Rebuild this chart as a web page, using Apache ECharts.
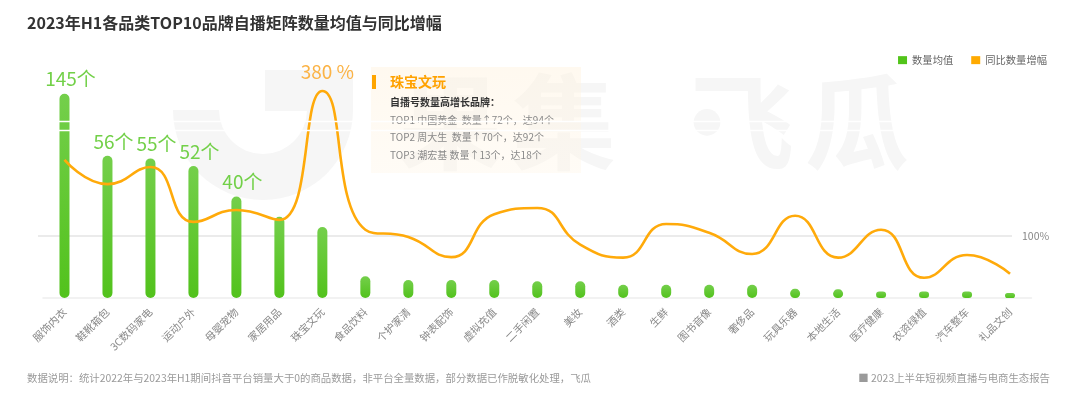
<!DOCTYPE html>
<html>
<head>
<meta charset="utf-8">
<script src="https://cdn.jsdelivr.net/npm/echarts@6/dist/echarts.min.js"></script>
<style>html,body{margin:0;padding:0;background:#fff}#chart{width:1080px;height:399px}</style>
</head>
<body>
<div id="chart"></div>
<script>
const categories = ['服饰内衣','鞋靴箱包','3C数码家电','运动户外','母婴宠物','家居用品','珠宝文玩','食品饮料','个护家清','钟表配饰','虚拟充值','二手闲置','美妆','酒类','生鲜','图书音像','奢侈品','玩具乐器','本地生活','医疗健康','农资绿植','汽车整车','礼品文创'];
const countValues = [145, 56, 55, 52, 40, 32, 28, 8.6, 7.1, 7.1, 7.1, 6.6, 6.6, 5.2, 5.2, 5.2, 5.2, 3.6, 3.4, 2.6, 2.6, 2.6, 2.0];
const growthValues = [247, 200, 233, 127, 150, 131, 380, 112, 98, 59, 142, 154, 83, 58, 123, 106, 65, 139, 58, 112, 19, 63, 27];
const labeledBarCount = 5;
const referenceGrowth = 100;
const countBreak = { start: 66, end: 134 };
const noteTitle = '珠宝文玩';
const noteHeader = '自播号数量高增长品牌：';
const noteLines = ['TOP1 中国黄金  数量↑72个，达94个', 'TOP2 周大生  数量↑70个，达92个', 'TOP3 潮宏基 数量↑13个，达18个'];
const titleText = '2023年H1各品类TOP10品牌自播矩阵数量均值与同比增幅';
const footLeft = '数据说明：统计2022年与2023年H1期间抖音平台销量大于0的商品数据，非平台全量数据，部分数据已作脱敏化处理，飞瓜';
const footRight = '■ 2023上半年短视频直播与电商生态报告';

const FF = "'Noto Sans CJK SC','Noto Sans',sans-serif";
const ORANGE = '#ffaa0a';
const WM = '#f6f6f6';
const peakIdx = growthValues.indexOf(Math.max(...growthValues));

const chart = echarts.init(document.getElementById('chart'), null, {renderer: 'canvas'});

const watermark = [['果', 398], ['集', 512], ['·', 655], ['飞', 690], ['瓜', 805]].map(([t, x]) => ({
  type: 'text', z: -10, left: x, top: 70, silent: true,
  style: {text: t, fill: WM, font: "bold 104px 'Noto Sans CJK SC'"}
}));

const option = {
  backgroundColor: '#ffffff',
  animation: false,
  textStyle: {fontFamily: FF},
  title: {
    text: titleText, left: 22, top: 10,
    textStyle: {fontSize: 16, fontWeight: 'bold', color: '#333', fontFamily: FF}
  },
  legend: {
    right: 28, top: 50, itemWidth: 9, itemHeight: 8, itemGap: 18, icon: 'rect',
    textStyle: {color: '#666', fontSize: 10.3, fontFamily: FF},
    data: [{name: '数量均值', itemStyle: {color: '#52c41a'}}, {name: '同比数量增幅', itemStyle: {color: '#ffaa00'}}]
  },
  grid: [
    {left: 43, right: 48.5, top: 48, bottom: 101, outerBoundsMode: 'none', containLabel: false},
    {left: 38, right: 68, top: 48, bottom: 101, outerBoundsMode: 'none', containLabel: false}
  ],
  xAxis: [{
    type: 'category', data: categories, gridIndex: 0,
    axisTick: {show: false},
    axisLine: {lineStyle: {color: '#eeeeee', width: 1.5}},
    axisLabel: {interval: 0, rotate: 45, margin: 12, color: '#888', fontSize: 10.5, fontFamily: FF}
  }, {
    type: 'value', gridIndex: 1, min: 0, max: 1, show: false, splitLine: {show: false}
  }],
  yAxis: [{
    type: 'value', gridIndex: 0, min: 0, max: 163,
    axisLine: {show: false}, axisTick: {show: false}, axisLabel: {show: false}, splitLine: {show: false},
    breaks: [{start: countBreak.start, end: countBreak.end, gap: 3.5}],
    breakArea: {
      show: true, expandOnClick: false,
      itemStyle: {color: 'rgba(255,255,255,0)', borderColor: '#ffffff', borderWidth: 1.5, borderType: 'solid', opacity: 1},
      zigzagAmplitude: 0, zigzagMinSpan: 10, zigzagMaxSpan: 10, zigzagZ: 100
    }
  }, {
    type: 'value', gridIndex: 0, min: -20, max: 463, show: false, splitLine: {show: false}
  }, {
    type: 'value', gridIndex: 1, min: -20, max: 463, show: false, splitLine: {show: false}
  }],
  series: [{
    name: '参考线', type: 'line', xAxisIndex: 1, yAxisIndex: 2, data: [], z: 1, silent: true,
    markLine: {
      silent: true, symbol: 'none', animation: false, z: 1,
      lineStyle: {color: '#e4e4e4', width: 1.5, type: 'solid'},
      label: {show: true, position: 'end', distance: 10, formatter: referenceGrowth + '%', color: '#888', fontSize: 10.5, fontFamily: FF},
      data: [{yAxis: referenceGrowth}]
    }
  }, {
    name: '数量均值', type: 'bar', xAxisIndex: 0, yAxisIndex: 0, barWidth: 10, z: 2,
    itemStyle: {
      borderRadius: 5,
      color: new echarts.graphic.LinearGradient(0, 0, 0, 1, [{offset: 0, color: '#74cf4b'}, {offset: 1, color: '#52c21c'}])
    },
    label: {
      show: true, position: 'top', distance: 5, offset: [6, 0],
      color: '#72d048', fontSize: 19, fontFamily: FF,
      formatter: p => p.dataIndex < labeledBarCount ? p.value + '个' : ''
    },
    data: countValues
  }, {
    name: '同比数量增幅', type: 'line', xAxisIndex: 0, yAxisIndex: 1, smooth: true, z: 3,
    showSymbol: true, symbol: 'circle', symbolSize: 0,
    lineStyle: {color: ORANGE, width: 2.6},
    itemStyle: {color: ORANGE},
    label: {
      show: true, position: 'top', distance: 10, offset: [5, 0],
      color: '#fbb346', fontSize: 19, fontFamily: FF,
      formatter: p => p.dataIndex === peakIdx ? p.value + ' %' : ''
    },
    data: growthValues
  }],
  graphic: [
    ...watermark,
    {type: 'sector', z: -10, silent: true, shape: {cx: 263, cy: 110, r0: 44, r: 90, startAngle: 0, endAngle: Math.PI}, style: {fill: WM}},
    {type: 'rect', z: -10, silent: true, left: 265, top: 70, shape: {width: 88, height: 41}, style: {fill: WM}},
    {type: 'rect', z: 1, left: 371, top: 67, shape: {width: 210, height: 106},
      style: {fill: new echarts.graphic.LinearGradient(0, 0, 0, 1, [{offset: 0, color: 'rgba(255,243,224,0.5)'}, {offset: 1, color: 'rgba(255,246,232,0.4)'}])}},
    {type: 'rect', z: 5, left: 372, top: 75, shape: {width: 4, height: 14}, style: {fill: '#ffa500'}},
    {type: 'text', z: 5, left: 390, top: 75, style: {text: noteTitle, fill: '#ffa200', font: "bold 14px 'Noto Sans CJK SC'"}},
    {type: 'text', z: 5, left: 390, top: 97, style: {text: noteHeader, fill: '#333', font: "bold 10px 'Noto Sans CJK SC'"}},
    ...noteLines.map((t, i) => ({type: 'text', z: 5, left: 390, top: 115 + i * 17.5, style: {text: t, fill: '#888', font: "10px 'Noto Sans CJK SC'"}})),
    {type: 'text', left: 27, top: 373, style: {text: footLeft, fill: '#9a9a9a', font: "10.4px 'Noto Sans CJK SC'"}},
    {type: 'text', right: 30, top: 373, style: {text: footRight, fill: '#9a9a9a', font: "10.4px 'Noto Sans CJK SC'"}}
  ]
};
chart.setOption(option);
</script>
</body>
</html>
